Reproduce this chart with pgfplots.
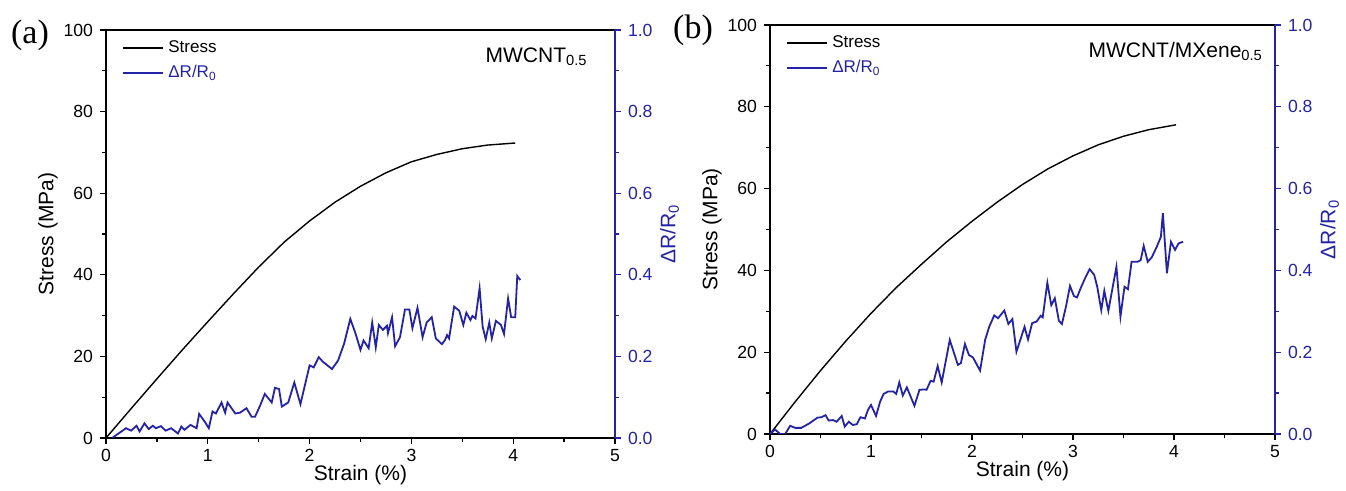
\documentclass[border=0pt]{standalone}
\usepackage{fontspec}
\setmainfont{Liberation Sans}
\newfontfamily\seriffont{Liberation Serif}
\usepackage{pgfplots}
\usepackage{pgfplotstable}
\pgfplotsset{compat=1.18}
\definecolor{rblue}{RGB}{35,35,170}

% stress-strain, panel (a)
\pgfplotstableread{
x y
0 0
0.25 7.3
0.5 14.5
0.75 21.6
1.0 28.5
1.25 35.3
1.5 41.9
1.75 48.0
2.0 53.2
2.25 57.8
2.5 61.7
2.75 65.0
3.0 67.7
3.25 69.5
3.5 70.9
3.75 71.8
4.02 72.3
}\stressA

\pgfplotstableread{
x y
0.06 0
0.197 0.024
0.247 0.018
0.30 0.030
0.33 0.016
0.378 0.036
0.42 0.022
0.46 0.030
0.49 0.024
0.54 0.029
0.585 0.018
0.64 0.024
0.707 0.011
0.74 0.028
0.77 0.020
0.83 0.032
0.89 0.024
0.915 0.059
0.97 0.040
1.01 0.024
1.046 0.065
1.08 0.060
1.135 0.087
1.17 0.062
1.194 0.087
1.27 0.060
1.316 0.062
1.38 0.073
1.43 0.052
1.464 0.052
1.513 0.079
1.56 0.108
1.628 0.087
1.66 0.123
1.70 0.120
1.727 0.077
1.79 0.087
1.85 0.136
1.91 0.083
2.0 0.178
2.04 0.173
2.09 0.198
2.13 0.187
2.22 0.169
2.28 0.190
2.34 0.232
2.40 0.292
2.45 0.257
2.50 0.216
2.53 0.239
2.58 0.220
2.615 0.283
2.65 0.222
2.68 0.277
2.72 0.265
2.76 0.275
2.77 0.257
2.81 0.296
2.84 0.225
2.888 0.247
2.937 0.315
2.98 0.315
3.01 0.269
3.06 0.319
3.11 0.247
3.15 0.283
3.20 0.296
3.24 0.244
3.30 0.230
3.33 0.240
3.35 0.252
3.37 0.244
3.42 0.322
3.47 0.312
3.51 0.277
3.54 0.307
3.58 0.289
3.60 0.299
3.63 0.293
3.67 0.367
3.70 0.273
3.73 0.242
3.765 0.283
3.79 0.244
3.83 0.287
3.88 0.277
3.91 0.255
3.95 0.342
3.98 0.296
4.02 0.296
4.04 0.397
4.07 0.387
}\resA

% panel (b)
\pgfplotstableread{
x y
0 0
0.25 7.9
0.5 15.5
0.75 22.7
1.0 29.5
1.25 35.8
1.5 41.5
1.75 47.0
2.0 52.0
2.25 56.7
2.5 61.0
2.75 64.8
3.0 68.0
3.25 70.7
3.5 72.8
3.75 74.4
4.02 75.6
}\stressB

\pgfplotstableread{
x y
0 0
0.05 0.011
0.1 0
0.15 0
0.20 0.020
0.25 0.015
0.31 0.015
0.39 0.026
0.47 0.040
0.51 0.041
0.55 0.046
0.58 0.033
0.625 0.034
0.66 0.030
0.71 0.044
0.74 0.018
0.78 0.030
0.82 0.022
0.86 0.024
0.895 0.041
0.94 0.038
0.97 0.059
1.0 0.071
1.05 0.044
1.09 0.079
1.125 0.098
1.17 0.104
1.22 0.104
1.25 0.098
1.28 0.126
1.315 0.094
1.355 0.114
1.43 0.069
1.48 0.108
1.53 0.109
1.55 0.108
1.59 0.130
1.62 0.128
1.66 0.166
1.70 0.126
1.78 0.230
1.86 0.169
1.89 0.173
1.93 0.220
1.97 0.193
2.01 0.187
2.08 0.155
2.13 0.230
2.17 0.262
2.22 0.290
2.258 0.283
2.32 0.302
2.36 0.269
2.40 0.281
2.44 0.201
2.52 0.262
2.555 0.231
2.595 0.271
2.64 0.275
2.68 0.289
2.70 0.285
2.746 0.370
2.785 0.315
2.82 0.332
2.86 0.277
2.89 0.269
2.93 0.311
2.97 0.362
3.01 0.337
3.04 0.334
3.08 0.359
3.12 0.381
3.165 0.403
3.21 0.389
3.24 0.360
3.28 0.303
3.31 0.350
3.35 0.301
3.43 0.409
3.47 0.287
3.51 0.360
3.544 0.354
3.58 0.421
3.64 0.421
3.67 0.425
3.70 0.460
3.74 0.421
3.78 0.432
3.83 0.458
3.87 0.482
3.89 0.540
3.93 0.393
3.97 0.470
4.01 0.450
4.045 0.466
4.09 0.470
}\resB

\pgfplotsset{
  base/.style={scale only axis, xmin=0, xmax=5, xtick={0,1,2,3,4,5},
    minor x tick num=1, tick align=outside,
    /pgf/number format/assume math mode=true,
    ticklabel style={font=\fontsize{8.8}{10}\selectfont},
    label style={font=\fontsize{10.5}{12}\selectfont},
    major tick length=3pt, minor tick length=1.8pt,
    axis line style={line width=0.7pt},
    every tick/.style={line width=0.6pt}},
  leftax/.style={base, ymin=0, ymax=100, ytick={0,20,40,60,80,100},
    minor y tick num=1, tick pos=left,
    ylabel={Stress (MPa)}, xlabel={Strain (\%)}, ylabel shift=-4pt, xlabel shift=-5pt,
    xticklabel style={yshift=1pt},
    legend style={draw=none, fill=none, at={(0.02,0.995)}, anchor=north west,
      font=\fontsize{8.5}{10}\selectfont, row sep=1pt},
    legend cell align=left,
    legend image code/.code={\draw[#1] (0pt,0pt) -- (20pt,0pt);}},
  rightax/.style={base, ymin=0, ymax=1, ytick={0,0.2,0.4,0.6,0.8,1.0},
    minor y tick num=1, axis x line=none, axis y line*=right,
    ylabel={ΔR/R\textsubscript{0}}, ylabel shift=-3pt,
    y axis line style={rblue}, ytick style={rblue}, ylabel style={rblue},
    yticklabel style={rblue, /pgf/number format/.cd, fixed, fixed zerofill, precision=1}},
}

\begin{document}
\begin{tikzpicture}
\path[use as bounding box] (0,0) rectangle (673pt,-245.5pt);

% panel (a)
\begin{axis}[leftax, width=254.5pt, height=204pt, at={(53pt,-219pt)}, anchor=south west]
\addplot[black, line width=0.7pt] table[x=x,y=y] {\stressA};
\addlegendentry{Stress}
\addlegendimage{rblue, line width=0.9pt}
\addlegendentry{\textcolor{rblue}{ΔR/R\textsubscript{0}}}
\node[anchor=east, font=\fontsize{10.5}{12}\selectfont] at (rel axis cs:0.96,0.935) {MWCNT\textsubscript{0.5}};
\end{axis}
\begin{axis}[rightax, width=254.5pt, height=204pt, at={(53pt,-219pt)}, anchor=south west]
\addplot[rblue, line width=0.9pt] table[x=x,y=y] {\resA};
\end{axis}
\node[font=\seriffont\fontsize{17}{17}\selectfont] at (15pt,-17.5pt) {(a)};

% panel (b)
\begin{axis}[leftax, width=252.5pt, height=204.5pt, at={(385pt,-217pt)}, anchor=south west]
\addplot[black, line width=0.7pt] table[x=x,y=y] {\stressB};
\addlegendentry{Stress}
\addlegendimage{rblue, line width=0.9pt}
\addlegendentry{\textcolor{rblue}{ΔR/R\textsubscript{0}}}
\node[anchor=east, font=\fontsize{10.5}{12}\selectfont] at (rel axis cs:0.99,0.935) {MWCNT/MXene\textsubscript{0.5}};
\end{axis}
\begin{axis}[rightax, width=252.5pt, height=204.5pt, at={(385pt,-217pt)}, anchor=south west]
\addplot[rblue, line width=0.9pt] table[x=x,y=y] {\resB};
\end{axis}
\node[font=\seriffont\fontsize{17}{17}\selectfont] at (346.5pt,-15pt) {(b)};
\end{tikzpicture}
\end{document}
